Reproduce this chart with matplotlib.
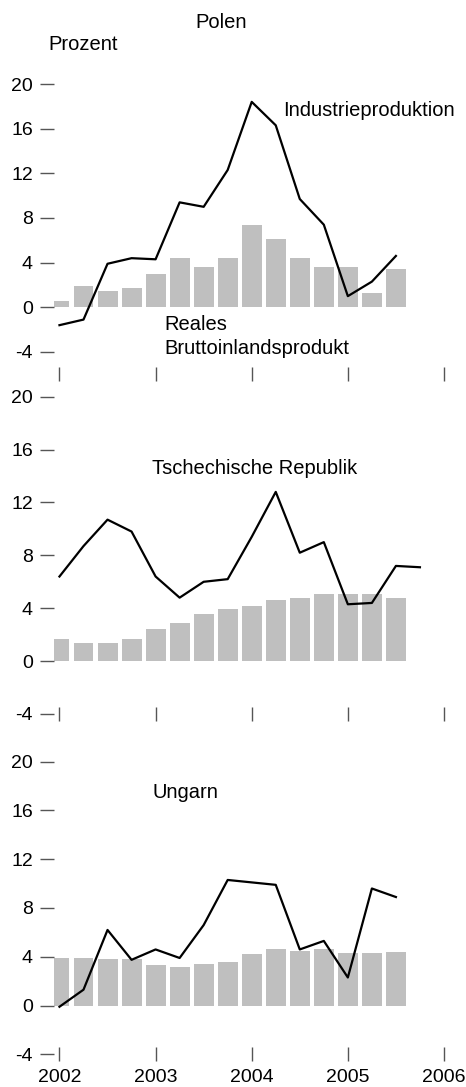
import numpy as np
import matplotlib
matplotlib.use('Agg')
import matplotlib.pyplot as plt

plt.rcParams['font.family'] = ['Liberation Sans', 'DejaVu Sans']
plt.rcParams['font.size'] = 14

# Quartale ab 2002 Q1
start_year = 2002

# Polen
pl_bip = [0.6, 1.95, 1.45, 1.7, 3.0, 4.4, 3.65, 4.45, 7.4, 6.15, 4.4, 3.65, 3.65, 1.25, 3.45]
pl_ind = [-1.6, -1.1, 3.9, 4.4, 4.3, 9.4, 9.0, 12.3, 18.4, 16.3, 9.7, 7.4, 1.0, 2.3, 4.6]

# Tschechische Republik
cz_bip = [1.65, 1.4, 1.35, 1.65, 2.4, 2.9, 3.6, 3.95, 4.2, 4.6, 4.8, 5.1, 5.1, 5.1, 4.8]
cz_ind = [6.4, 8.7, 10.7, 9.8, 6.4, 4.8, 6.0, 6.2, 9.4, 12.8, 8.2, 9.0, 4.3, 4.4, 7.2, 7.1]

# Ungarn
hu_bip = [3.9, 3.9, 3.85, 3.85, 3.35, 3.15, 3.4, 3.6, 4.25, 4.65, 4.5, 4.65, 4.3, 4.3, 4.4]
hu_ind = [-0.1, 1.3, 6.2, 3.75, 4.6, 3.9, 6.6, 10.3, 10.1, 9.9, 4.6, 5.3, 2.3, 9.6, 8.9]

year_ticks = [2002, 2003, 2004, 2005, 2006]
y_ticks = [-4, 0, 4, 8, 12, 16, 20]

W, H = 466, 1087
fig = plt.figure(figsize=(W / 100, H / 100), dpi=100)


def px_axes(top, bottom):
    left, right = 53.7, 450.7
    return fig.add_axes([left / W, 1 - bottom / H, (right - left) / W, (bottom - top) / H])


def ftext(x, y, s, **kw):
    fig.text(x / W, 1 - y / H, s, fontsize=14.5, **kw)


def draw_panel(ax, bip, ind, ymin, show_xlabels):
    xb = start_year + 0.25 * np.arange(len(bip))
    xl = start_year + 0.25 * np.arange(len(ind))
    ax.bar(xb, bip, width=0.208, color='#bfbfbf', zorder=1)
    ax.plot(xl, ind, color='black', lw=1.6, zorder=2)
    ax.set_xlim(2001.94, 2006.07)
    ax.set_ylim(ymin, 20)
    for s in ax.spines.values():
        s.set_visible(False)
    ax.set_yticks(y_ticks)
    ax.set_yticklabels([str(v) for v in y_ticks])
    ax.set_xticks(year_ticks)
    if show_xlabels:
        ax.set_xticklabels([str(v) for v in year_ticks])
    else:
        ax.set_xticklabels([])
    ax.tick_params(axis='y', direction='out', length=10, width=1.0, color='#555555', pad=5)
    ax.tick_params(axis='x', direction='inout', length=10, width=1.0, color='#555555', pad=5.5)


ax1 = px_axes(84, 374.3)
draw_panel(ax1, pl_bip, pl_ind, -6, False)
ax2 = px_axes(396.7, 714)
draw_panel(ax2, cz_bip, cz_ind, -4, False)
ax3 = px_axes(761.7, 1054.3)
draw_panel(ax3, hu_bip, hu_ind, -4, True)

ftext(221, 23, 'Polen', ha='center', va='center')
ftext(48, 44, 'Prozent', ha='left', va='center')
ftext(283, 110, 'Industrieproduktion', ha='left', va='center')
ftext(164, 324, 'Reales', ha='left', va='center')
ftext(164, 348, 'Bruttoinlandsprodukt', ha='left', va='center')
ftext(152, 468, 'Tschechische Republik', ha='left', va='center')
ftext(152, 792, 'Ungarn', ha='left', va='center')

fig.savefig('out.png', dpi=100)
